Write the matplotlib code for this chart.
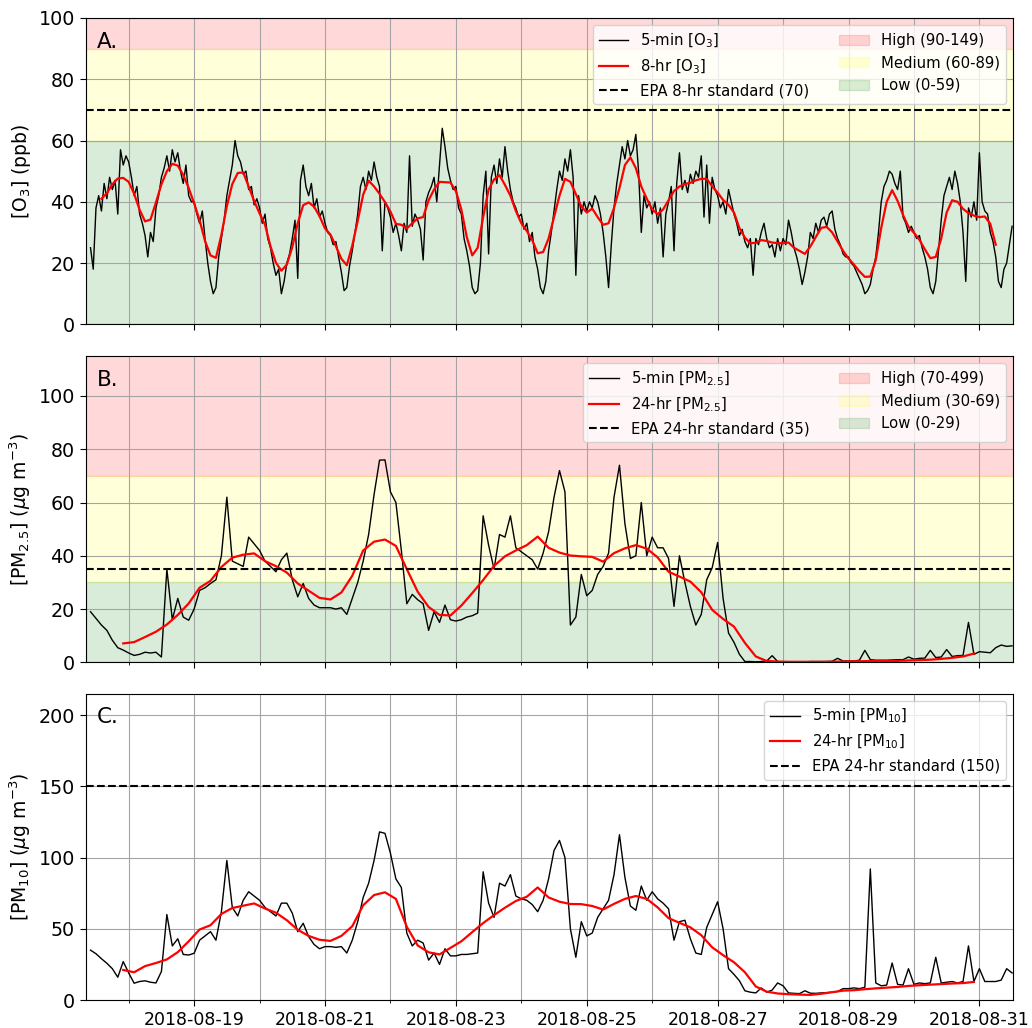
# -*- coding: utf-8 -*-
from __future__ import annotations

import matplotlib

matplotlib.use("Agg")
import matplotlib.dates as mdates
import matplotlib.pyplot as plt
import pandas as pd
from matplotlib.patches import Patch


OUT_PNG = "out.png"

# Raw monitor records, thinned: O3 hourly, PM every 2 h, all from 2018-08-17 10:00
O3_RAW = [
    25, 18, 38, 42, 37, 46, 41, 48, 44, 47, 36, 57, 52, 55,
    53, 48, 42, 45, 36, 33, 29, 22, 30, 27, 38, 42, 48, 51, 55, 50, 57, 53, 56, 50, 46, 52, 42, 40,
    40, 36, 33, 37, 28, 20, 14, 10, 12, 22, 28, 34, 42, 47, 52, 60, 55, 53, 49, 50, 44, 45, 39, 41,
    38, 33, 36, 28, 25, 20, 16, 18, 10, 14, 20, 23, 28, 34, 15, 47, 52, 45, 42, 46, 38, 41, 35, 37,
    33, 30, 29, 26, 27, 22, 17, 11, 12, 19, 24, 30, 36, 45, 48, 44, 50, 47, 53, 48, 45, 24, 40, 38,
    35, 30, 33, 29, 24, 33, 30, 55, 32, 36, 34, 31, 21, 40, 43, 45, 48, 40, 52, 64, 58, 51, 47, 44,
    45, 38, 36, 28, 24, 19, 12, 10, 11, 20, 42, 50, 23, 48, 52, 46, 54, 48, 58, 50, 44, 40, 38, 35,
    36, 31, 33, 27, 30, 22, 18, 12, 10, 14, 24, 30, 37, 44, 50, 47, 54, 50, 57, 48, 16, 42, 36, 40,
    37, 40, 38, 42, 40, 36, 30, 22, 12, 26, 38, 46, 52, 58, 54, 60, 55, 57, 62, 50, 30, 42, 38, 40,
    36, 40, 33, 38, 22, 36, 40, 45, 24, 46, 56, 44, 47, 43, 49, 46, 50, 48, 55, 35, 52, 33, 48, 44,
    42, 38, 40, 36, 44, 40, 36, 33, 29, 31, 27, 25, 28, 16, 28, 26, 30, 33, 28, 25, 26, 22, 28, 24,
    28, 26, 34, 30, 25, 22, 18, 13, 17, 22, 30, 28, 33, 30, 34, 35, 32, 36, 37, 31, 28, 26, 23, 22,
    22, 20, 19, 17, 15, 13, 10, 11, 13, 18, 22, 30, 40, 45, 47, 50, 49, 46, 44, 50, 35, 33, 30, 32,
    30, 28, 29, 25, 22, 18, 12, 10, 14, 24, 34, 42, 45, 48, 44, 50, 46, 40, 30, 14, 38, 35, 40, 34,
    56, 40, 37, 36, 30, 27, 22, 14, 12, 18, 20, 26, 32,
]

# centred 8-hr mean, every 2 h from 2018-08-17 14:00
O3_8HR = [
    41.0, 42.8, 45.7, 47.6, 47.8,
    46.5, 42.6, 37.4, 33.6, 34.2, 39.8, 45.7, 50.0, 52.4, 51.8, 48.8, 44.5,
    39.5, 34.0, 27.2, 22.5, 21.7, 29.2, 38.6, 45.8, 49.4, 49.6, 45.0, 40.3,
    36.2, 32.5, 25.5, 20.1, 17.5, 19.5, 25.2, 33.0, 38.9, 39.8, 38.4, 35.3,
    31.3, 29.3, 25.5, 21.4, 19.3, 25.7, 33.8, 42.3, 46.9, 45.0, 42.6, 39.9,
    36.8, 32.8, 32.5, 31.3, 33.0, 34.6, 35.0, 40.5, 44.0, 46.5, 46.4, 46.3,
    43.5, 37.5, 28.5, 22.5, 25.0, 35.0, 44.0, 47.3, 48.7, 45.5, 42.0, 37.0,
    33.0, 30.5, 27.5, 23.2, 23.6, 28.0, 35.0, 42.0, 47.5, 46.5, 42.5, 38.5,
    36.5, 37.8, 35.0, 32.5, 33.0, 38.0, 44.5, 52.0, 54.5, 51.0, 45.0, 41.0,
    37.5, 36.0, 37.5, 40.5, 43.5, 45.0, 45.8, 46.2, 47.0, 47.5, 47.5, 45.0,
    43.0, 40.6, 39.0, 36.5, 31.4, 28.3, 26.5, 26.6, 27.5, 27.2, 26.7, 26.5,
    26.5, 26.7, 25.0, 24.0, 23.0, 25.4, 28.5, 31.5, 31.8, 30.0, 27.0, 24.0,
    21.5, 19.5, 17.3, 15.5, 15.6, 21.0, 31.5, 40.0, 43.8, 40.3, 35.7, 31.8,
    29.9, 27.6, 24.5, 21.6, 22.0, 28.0, 36.5, 40.5, 40.0, 37.7, 36.3, 35.5,
    35.0, 35.2, 32.8, 26.0,
]

PM25_RAW = [
    19, 16.5, 14, 12, 8.3, 5.5, 4.6,
    3.5, 2.6, 3, 3.8, 3.5, 3.8, 2, 35, 16, 24, 17, 15.8,
    20, 27, 28, 29.6, 31, 40, 62, 38, 37, 36, 47, 44.5,
    42, 38, 36, 34, 38.5, 41, 31, 24.6, 29.6, 24, 21.5, 20.5,
    20.5, 20.5, 20, 20.5, 18, 24, 30, 38, 48, 63, 75.9, 76,
    64, 60, 42, 22, 25.5, 23.5, 22, 12, 19, 15, 21.5, 16,
    15.5, 16, 17, 17.5, 18.5, 55, 44, 35, 48, 47, 55, 43,
    41.5, 40, 38.5, 35, 41, 49, 62, 72, 64, 14, 17, 33,
    25, 27, 33, 36, 41, 62, 74, 52, 39, 40, 60, 40,
    47, 43, 43, 39, 21, 40, 30, 21, 14, 18, 31, 35.5,
    45, 24, 11, 7.5, 3, 0.3, 0.3, 0.2, 0.3, 0.5, 2.5, 0.3,
    0.2, 0.2, 0.2, 0.2, 0.2, 0.3, 0.3, 0.3, 0.3, 0.4, 1.5, 0.5,
    0.5, 0.5, 0.8, 4.5, 1.0, 0.8, 0.8, 0.8, 0.9, 1.0, 1.0, 2.0,
    1.2, 1.5, 1.6, 4.5, 1.8, 2.0, 4.8, 2.2, 2.5, 2.6, 15, 3,
    4, 3.8, 3.6, 5.5, 6.5, 6.0, 6.2,
]

# centred 24-hr mean, every 4 h from 2018-08-17 22:00
PM25_24HR = [
    7.1, 7.6, 9.5, 11.5, 14.2, 17.8, 22.1, 28.0, 30.6, 35.8, 39.3, 40.4,
    40.9, 38.0, 36.1, 33.7, 29.6, 26.9, 24.2, 23.6, 26.2, 32.5, 42.0, 45.3,
    46.1, 43.7, 35.0, 26.5, 20.8, 17.8, 17.6, 21.3, 26.0, 30.9, 36.2, 39.8,
    42.0, 44.0, 47.2, 43.0, 41.2, 40.1, 39.8, 39.6, 37.8, 41.0, 42.8, 44.0,
    42.7, 39.4, 34.0, 32.2, 30.3, 26.3, 19.7, 16.3, 13.4, 7.3, 2.2, 0.5,
    0.3, 0.2, 0.2, 0.2, 0.2, 0.25, 0.3, 0.4, 0.45, 0.5, 0.5, 0.55,
    0.7, 0.85, 1.0, 1.3, 1.7, 2.2, 3.3,
]

PM10_RAW = [
    35, 32.5, 29, 25.8, 22, 16, 27,
    19, 11.8, 13, 13.5, 12.5, 12, 20, 60, 38, 43, 32, 31.6,
    32.8, 42, 45, 48, 42, 62, 98, 65, 59, 70, 76, 73,
    70, 65, 62, 59, 68, 68, 61, 48, 53.9, 44.5, 39, 36,
    37.5, 37.5, 37, 37.5, 33, 42, 55, 72, 82, 98, 118, 117,
    103, 85, 79, 47, 38, 42, 40, 28, 33, 25, 36, 31,
    31, 32, 32, 32.5, 33, 90, 68, 58, 82, 80, 88, 73,
    71, 70, 67, 62, 70, 85, 105, 112, 100, 50, 30, 55,
    45, 47, 58, 64, 70, 88, 116, 86, 66, 63, 80, 70,
    76, 71, 68, 64, 42, 55, 56, 43, 33, 32, 51, 60,
    69, 50, 22, 18, 13.5, 6.5, 5.5, 5, 8.5, 5.5, 7, 12,
    10, 5, 4.7, 4.5, 6.5, 4.8, 4.7, 5, 5.2, 5.5, 6, 8,
    8, 8.5, 8, 9, 92, 12, 10, 10.5, 26, 11, 10.5, 22,
    11, 12, 11.5, 12, 30, 12, 12.5, 13, 12, 13, 38, 13,
    22, 13, 13, 13, 14, 22, 19,
]

PM10_24HR = [
    21.1, 19.5, 23.8, 26.0, 28.5, 33.6, 41.2, 49.5, 52.5, 60.4, 64.6, 66.2,
    67.8, 64.2, 61.3, 56.0, 49.3, 45.0, 42.3, 41.5, 45.0, 51.8, 66.5, 73.7,
    75.6, 71.0, 51.4, 38.3, 33.5, 32.0, 36.6, 41.2, 47.7, 54.0, 59.6, 64.8,
    69.5, 72.5, 79.0, 72.0, 69.0, 67.4, 67.3, 66.0, 63.5, 67.5, 71.0, 73.0,
    71.0, 65.0, 57.5, 54.2, 51.0, 45.5, 37.0, 31.5, 26.5, 19.5, 9.5, 5.9,
    4.6, 4.1, 3.8, 3.6, 4.4, 5.5, 6.6, 6.9, 7.6, 8.2, 8.7, 9.2,
    9.9, 10.4, 10.8, 11.2, 11.6, 11.9, 12.7,
]

O3_BANDS = [(90, 149, "red", "High (90-149)"), (60, 90, "yellow", "Medium (60-89)"), (0, 60, "green", "Low (0-59)")]
PM25_BANDS = [(70, 499, "red", "High (70-499)"), (30, 70, "yellow", "Medium (30-69)"), (0, 30, "green", "Low (0-29)")]

O3_STANDARD = 70
PM25_STANDARD = 35
PM10_STANDARD = 150

X_LEFT = pd.Timestamp("2018-08-17 08:13")
X_RIGHT = pd.Timestamp("2018-08-31 12:20")

FIG_LEFT = 0.083
FIG_WIDTH = 0.8986
PANEL_BOTTOMS = [0.6845, 0.3557, 0.0272]
PANEL_HEIGHT = 0.298


def draw_panel(ax, t_raw, raw, t_avg, avg, standard, labels, bands, ylim, yticks, ylabel, tag):
    patches = []
    for lo, hi, color, name in bands:
        ax.axhspan(lo, hi, color=color, alpha=0.15)
        patches.append(Patch(color=color, alpha=0.15, label=name))

    (l_raw,) = ax.plot(t_raw, raw, color="k", lw=1.0, label=labels[0])
    (l_avg,) = ax.plot(t_avg, avg, color="red", lw=1.6, label=labels[1])
    l_std = ax.axhline(standard, color="k", ls="--", lw=1.5, label=labels[2])

    ax.set_ylim(*ylim)
    ax.set_yticks(yticks)
    ax.set_ylabel(ylabel, fontsize=13.5)
    ax.set_xlim(X_LEFT, X_RIGHT)

    ax.xaxis.set_major_locator(mdates.DayLocator(bymonthday=range(1, 32, 2)))
    ax.xaxis.set_minor_locator(mdates.DayLocator())
    ax.xaxis.set_major_formatter(mdates.DateFormatter("%Y-%m-%d"))
    ax.grid(True, which="both", axis="x", color="#a4a4a4")
    ax.grid(True, which="major", axis="y", color="#a4a4a4")
    ax.tick_params(axis="y", labelsize=13.8, length=4.3)
    ax.tick_params(axis="x", which="major", labelsize=12.5, length=4.3)
    ax.tick_params(axis="x", which="minor", length=2.4)

    ax.legend(
        handles=[l_raw, l_avg, l_std] + patches,
        ncol=2 if patches else 1,
        loc="upper right",
        fontsize=10.7,
    )
    ax.text(0.012, 0.955, tag, transform=ax.transAxes, fontsize=15.5, ha="left", va="top")


def main() -> None:
    o3_time = pd.date_range("2018-08-17 10:00", periods=len(O3_RAW), freq="h")
    o3_avg_time = pd.date_range("2018-08-17 14:00", periods=len(O3_8HR), freq="2h")
    pm_time = pd.date_range("2018-08-17 10:00", periods=len(PM25_RAW), freq="2h")
    pm_avg_time = pd.date_range("2018-08-17 22:00", periods=len(PM25_24HR), freq="4h")

    fig = plt.figure(figsize=(10.32, 10.28), dpi=100)
    ax_a = fig.add_axes([FIG_LEFT, PANEL_BOTTOMS[0], FIG_WIDTH, PANEL_HEIGHT])
    ax_b = fig.add_axes([FIG_LEFT, PANEL_BOTTOMS[1], FIG_WIDTH, PANEL_HEIGHT], sharex=ax_a)
    ax_c = fig.add_axes([FIG_LEFT, PANEL_BOTTOMS[2], FIG_WIDTH, PANEL_HEIGHT], sharex=ax_a)

    draw_panel(
        ax_a, o3_time, O3_RAW, o3_avg_time, O3_8HR, O3_STANDARD,
        ["5-min [O$_3$]", "8-hr [O$_3$]", "EPA 8-hr standard (70)"],
        O3_BANDS, (0, 100), range(0, 101, 20), "[O$_3$] (ppb)", "A.",
    )
    draw_panel(
        ax_b, pm_time, PM25_RAW, pm_avg_time, PM25_24HR, PM25_STANDARD,
        ["5-min [PM$_{2.5}$]", "24-hr [PM$_{2.5}$]", "EPA 24-hr standard (35)"],
        PM25_BANDS, (0, 115), range(0, 101, 20), "[PM$_{2.5}$] ($\\mu$g m$^{-3}$)", "B.",
    )
    draw_panel(
        ax_c, pm_time, PM10_RAW, pm_avg_time, PM10_24HR, PM10_STANDARD,
        ["5-min [PM$_{10}$]", "24-hr [PM$_{10}$]", "EPA 24-hr standard (150)"],
        [], (0, 215), range(0, 201, 50), "[PM$_{10}$] ($\\mu$g m$^{-3}$)", "C.",
    )

    ax_a.tick_params(labelbottom=False)
    ax_b.tick_params(labelbottom=False)

    fig.savefig(OUT_PNG, dpi=100)
    plt.close(fig)


if __name__ == "__main__":
    main()
